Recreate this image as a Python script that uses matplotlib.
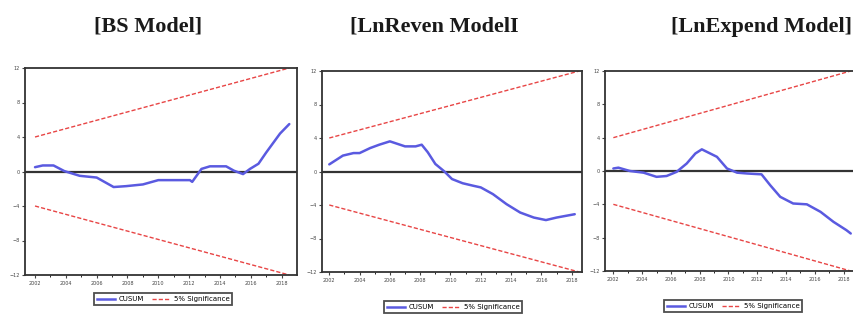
import matplotlib
matplotlib.use("Agg")
import matplotlib.pyplot as plt
from matplotlib.lines import Line2D

W, H = 854, 320

titles = ["[BS Model]", "[LnReven ModelI", "[LnExpend Model]"]
title_x = [148, 434, 762]

# CUSUM paths (year, value)
bs_years = [2002.0, 2002.5, 2003.2, 2003.9, 2004.9, 2006.0, 2007.1, 2007.9, 2009.0,
            2010.0, 2011.0, 2012.05, 2012.2, 2012.8, 2013.35, 2014.4, 2014.9, 2015.5,
            2015.95, 2016.5, 2017.0, 2017.9, 2018.5]
bs_cusum = [0.5, 0.7, 0.7, 0.05, -0.5, -0.7, -1.8, -1.7, -1.5,
            -1.0, -1.0, -1.0, -1.2, 0.3, 0.6, 0.6, 0.1, -0.3,
            0.3, 0.9, 2.2, 4.4, 5.5]

rev_years = [2002.0, 2002.9, 2003.6, 2004.0, 2004.7, 2005.3, 2006.0, 2006.5, 2007.0,
             2007.7, 2008.1, 2008.5, 2009.0, 2009.6, 2010.1, 2010.8, 2011.5, 2012.0,
             2012.8, 2013.7, 2014.6, 2015.5, 2016.3, 2017.0, 2018.2]
rev_cusum = [0.85, 1.9, 2.2, 2.2, 2.8, 3.2, 3.6, 3.3, 3.0,
             3.0, 3.2, 2.3, 0.9, 0.0, -0.9, -1.4, -1.7, -1.9,
             -2.7, -3.9, -4.9, -5.5, -5.8, -5.5, -5.1]

exp_years = [2002.0, 2002.35, 2003.15, 2004.1, 2005.0, 2005.7, 2006.4, 2007.1, 2007.7,
             2008.15, 2009.2, 2009.9, 2010.6, 2011.3, 2012.3, 2012.9, 2013.6, 2014.5,
             2015.45, 2016.4, 2017.3, 2018.2, 2018.5]
exp_cusum = [0.3, 0.4, 0.0, -0.2, -0.7, -0.6, -0.1, 0.9, 2.1,
             2.6, 1.7, 0.3, -0.2, -0.3, -0.4, -1.7, -3.1, -3.9,
             -4.0, -4.9, -6.1, -7.1, -7.5]

# 5% significance bounds
bound_years = [2002.0, 2018.5]
bound_upper = [4.0, 12.0]
bound_lower = [-4.0, -12.0]

year_ticks = [2002, 2004, 2006, 2008, 2010, 2012, 2014, 2016, 2018]
y_ticks = [-12, -8, -4, 0, 4, 8, 12]

# axes boxes in pixels: left, right, top, bottom, xlim
boxes = [(25, 297, 68, 275, (2001.35, 2019.0)),
         (322, 582, 71, 272, (2001.52, 2018.68)),
         (605, 868, 71, 271, (2001.42, 2019.7))]
legend_pos = [(163, 299), (453, 307), (733, 306)]

series = [(bs_years, bs_cusum), (rev_years, rev_cusum), (exp_years, exp_cusum)]

blue = "#5a5ae0"
red = "#e84545"

fig = plt.figure(figsize=(W / 100, H / 100), dpi=100)

for i, (l, r, t, b, xl) in enumerate(boxes):
    ax = fig.add_axes([l / W, (H - b) / H, (r - l) / W, (b - t) / H])
    xs, ys = series[i]
    ax.plot(bound_years, bound_upper, color=red, lw=1.0, ls=(0, (3, 1.5)))
    ax.plot(bound_years, bound_lower, color=red, lw=1.0, ls=(0, (3, 1.5)))
    ax.axhline(0, color="#333333", lw=1.6, zorder=1)
    ax.plot(xs, ys, color=blue, lw=1.8, solid_capstyle="round")
    ax.set_xlim(*xl)
    ax.set_ylim(-12, 12)
    ax.set_xticks(year_ticks)
    ax.set_xticks(range(2002, 2019), minor=True)
    ax.set_xticklabels([str(y) for y in year_ticks])
    ax.set_yticks(y_ticks)
    ax.tick_params(labelsize=3.5, length=2.5, width=0.8, pad=1.5, colors="#444444")
    ax.tick_params(which="minor", length=1.5, width=0.6)
    for s in ax.spines.values():
        s.set_linewidth(1.3)
        s.set_color("#333333")

    handles = [Line2D([], [], color=blue, lw=1.8),
               Line2D([], [], color=red, lw=1.0, ls=(0, (3, 1.5)))]
    lx, ly = legend_pos[i]
    leg = fig.legend(handles, ["CUSUM", "5% Significance"], loc="center",
                     bbox_to_anchor=(lx / W, (H - ly) / H), ncol=2,
                     fontsize=5, frameon=True, fancybox=False, handlelength=2.6,
                     columnspacing=1.2, handletextpad=0.5, borderpad=0.45)
    leg.get_frame().set_edgecolor("#222222")
    leg.get_frame().set_linewidth(1.3)

    fig.text(title_x[i] / W, (H - 27) / H, titles[i], ha="center", va="center",
             fontsize=16, fontweight="bold", family="Liberation Serif", color="#1a1a1a")

fig.savefig("out.png", dpi=100)
